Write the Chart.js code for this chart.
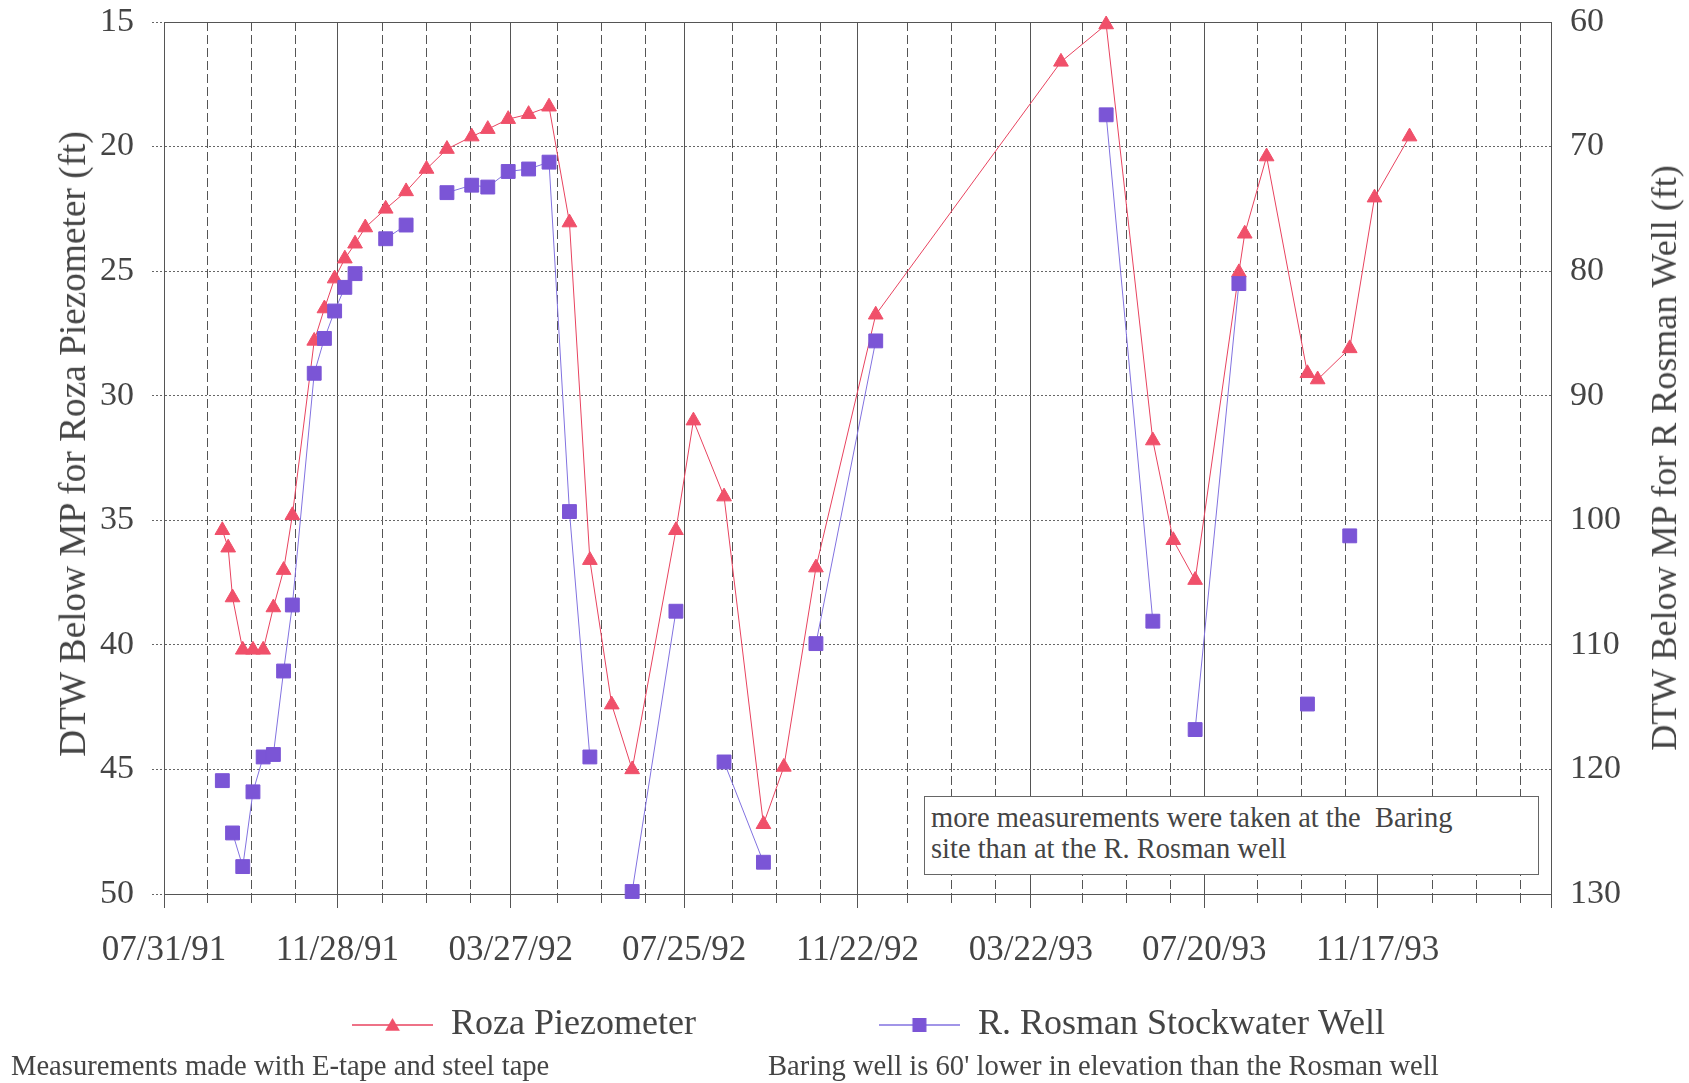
<!DOCTYPE html>
<html>
<head>
<meta charset="utf-8">
<script src="https://cdn.jsdelivr.net/npm/chart.js@4.4.1/dist/chart.umd.min.js"></script>
<style>
  html, body { margin: 0; padding: 0; background: #fff; }
  #wrap { position: relative; width: 1689px; height: 1083px; overflow: hidden;
          font-family: "Liberation Serif", "Times New Roman", serif; color: #444; }
  #c { position: absolute; left: 0; top: 0; }
  .note { position: absolute; background: #fff; border: 1px solid #666; box-sizing: border-box;
          font-size: 28.5px; line-height: 31px; padding: 5px 6px; white-space: nowrap; color: #444; }
  .foot { position: absolute; font-size: 28.6px; line-height: 28px; white-space: nowrap; color: #444; }
  .vtitle { position: absolute; line-height: 40px; white-space: nowrap;
            transform: translate(-50%, -50%) rotate(-90deg); color: #444; }
</style>
</head>
<body>
<div id="wrap">
  <canvas id="c" width="1689" height="1083"></canvas>
  <div class="note" style="left:924px; top:796px; width:615px; height:79px;">more measurements were taken at the&nbsp; Baring<br>site than at the R. Rosman well</div>
  <div class="vtitle" style="left:73px; top:444px; font-size:37.3px;">DTW Below MP for Roza Piezometer (ft)</div>
  <div class="vtitle" style="left:1664px; top:458px; font-size:36px;">DTW Below MP for R Rosman Well (ft)</div>
  <div class="foot" style="left:11px; top:1052px;">Measurements made with E-tape and steel tape</div>
  <div class="foot" style="left:768px; top:1052px;">Baring well is 60' lower in elevation than the Rosman well</div>
</div>
<script>
// ---------------- data ----------------
const axisStartDate = '1991-07-31';
const axisEndDay = 951;          // days after axis start (right edge of plot)
const majorStepDays = 120;
const minorStepDays = 30;
const xTickLabels = ['07/31/91', '11/28/91', '03/27/92', '07/25/92', '11/22/92', '03/22/93', '07/20/93', '11/17/93'];

const measurementDates = [
  '1991-09-09', '1991-09-13', '1991-09-16', '1991-09-23', '1991-09-30', '1991-10-07', '1991-10-14', '1991-10-21',
  '1991-10-27', '1991-11-11', '1991-11-18', '1991-11-25', '1991-12-02', '1991-12-09', '1991-12-16', '1991-12-30',
  '1992-01-13', '1992-01-27', '1992-02-10', '1992-02-27', '1992-03-09', '1992-03-23', '1992-04-06', '1992-04-20',
  '1992-05-04', '1992-05-18', '1992-06-02', '1992-06-16', '1992-07-16', '1992-07-28', '1992-08-18', '1992-09-14',
  '1992-09-28', '1992-10-20', '1992-11-30', '1993-04-06', '1993-05-07', '1993-06-08', '1993-06-22', '1993-07-07',
  '1993-08-06', '1993-08-10', '1993-08-25', '1993-09-22', '1993-09-29', '1993-10-21', '1993-11-07', '1993-12-01'
];

// Roza Piezometer, depth to water (ft) – left axis
const rozaDTW = [
  35.4, 36.1, 38.1, 40.2, 40.2, 40.2, 38.5, 37.0,
  34.8, 27.8, 26.5, 25.3, 24.5, 23.9, 23.25, 22.5,
  21.8, 20.9, 20.1, 19.6, 19.3, 18.9, 18.7, 18.4,
  23.05, 36.6, 42.4, 45.0, 35.4, 31.0, 34.05, 47.2,
  44.9, 36.9, 26.75, 16.6, 15.1, 31.8, 35.8, 37.4,
  25.05, 23.5, 20.4, 29.1, 29.35, 28.1, 22.05, 19.6
];

// R. Rosman Stockwater Well, depth to water (ft) – right axis (null = not measured)
const rosmanDTW = [
  120.9, null, 125.1, 127.8, 121.8, 119.0, 118.8, 112.1,
  106.8, 88.2, 85.4, 83.2, 81.3, 80.2, null, 77.4,
  76.3, null, 73.7, 73.1, 73.25, 72.0, 71.8, 71.25,
  99.3, 119.0, null, 129.8, 107.3, null, 119.4, 127.45,
  null, 109.9, 85.6, null, 67.45, 108.1, null, 116.8,
  81.0, null, null, 114.75, null, 101.25, null, null
];

// ---------------- helpers ----------------
const FONT = 'Liberation Serif';
const TEXT = '#444';
const GRID = '#555';
const RED_LINE = '#E8435F', RED_FILL = '#F0506A';
const BLUE_LINE = '#8272E0', BLUE_FILL = '#7B55D6';

function dayNumber(s) {
  const p = s.split('-').map(Number);
  const o = axisStartDate.split('-').map(Number);
  return Math.round((Date.UTC(p[0], p[1] - 1, p[2]) - Date.UTC(o[0], o[1] - 1, o[2])) / 86400000);
}
const xDays = measurementDates.map(dayNumber);
const rozaPts = xDays.map((x, i) => ({ x: x, y: rozaDTW[i] }));
const rosmanPts = xDays.map((x, i) => ({ x: x, y: rosmanDTW[i] }));

function legendIcon(kind, lineColor, fillColor) {
  const cv = document.createElement('canvas');
  cv.width = 81; cv.height = 22;
  const g = cv.getContext('2d');
  g.strokeStyle = lineColor; g.lineWidth = 1.5;
  g.beginPath(); g.moveTo(0, 11); g.lineTo(81, 11); g.stroke();
  g.fillStyle = fillColor;
  if (kind === 'triangle') {
    const r = 8.5, cx = 40.5, cy = 12.5;
    g.beginPath();
    g.moveTo(cx, cy - r);
    g.lineTo(cx + r * Math.sin(2 * Math.PI / 3), cy + r / 2);
    g.lineTo(cx - r * Math.sin(2 * Math.PI / 3), cy + r / 2);
    g.closePath(); g.fill();
  } else {
    g.fillRect(40.5 - 7, 11 - 7, 14, 14);
  }
  return cv;
}
const icons = [legendIcon('triangle', RED_LINE, RED_FILL), legendIcon('rect', BLUE_LINE, BLUE_FILL)];

// place the legend row (text centre at y=1025) and keep its clip box large enough
const legendPlace = {
  id: 'legendPlace',
  afterLayout(chart) {
    const lg = chart.legend;
    if (!lg) return;
    const pad = lg.options.labels.padding;
    const fs = lg.options.labels.font.size;
    const dy = 1025 - (lg.top + pad + fs / 2);
    lg.top += dy;
    lg.bottom = chart.height;
    lg.height = lg.bottom - lg.top;
    lg.left += 24; lg.right += 24;
  }
};

Chart.defaults.font.family = FONT;
Chart.defaults.color = TEXT;

new Chart(document.getElementById('c'), {
  type: 'line',
  data: {
    datasets: [
      {
        label: 'Roza Piezometer',
        data: rozaPts,
        xAxisID: 'x', yAxisID: 'y',
        borderColor: RED_LINE, backgroundColor: RED_FILL, borderWidth: 1,
        pointStyle: 'triangle', pointRadius: 8.5,
        pointBackgroundColor: RED_FILL, pointBorderColor: RED_FILL, pointBorderWidth: 1,
        spanGaps: false, tension: 0, clip: false, order: 2
      },
      {
        label: 'R. Rosman Stockwater Well',
        data: rosmanPts,
        xAxisID: 'x', yAxisID: 'y2',
        borderColor: BLUE_LINE, backgroundColor: BLUE_FILL, borderWidth: 1,
        pointStyle: 'rect', pointRadius: 9.8,
        pointBackgroundColor: BLUE_FILL, pointBorderColor: BLUE_FILL, pointBorderWidth: 1,
        spanGaps: false, tension: 0, clip: false, order: 1
      }
    ]
  },
  options: {
    responsive: false,
    animation: false,
    devicePixelRatio: 1,
    events: [],
    layout: { padding: { top: 22, left: 0, right: 0, bottom: 39 } },
    plugins: {
      tooltip: { enabled: false },
      legend: {
        display: true,
        position: 'bottom',
        maxHeight: 60,
        labels: {
          usePointStyle: true,
          pointStyleWidth: 81,
          boxHeight: 20,
          padding: 183,
          color: TEXT,
          font: { family: FONT, size: 36 },
          generateLabels: (chart) => chart.data.datasets.map((ds, i) => ({
            text: ds.label,
            pointStyle: icons[i],
            fillStyle: ds.pointBackgroundColor,
            strokeStyle: ds.borderColor,
            lineWidth: 0,
            hidden: false,
            datasetIndex: i,
            fontColor: TEXT
          }))
        }
      }
    },
    scales: {
      x: {
        type: 'linear', position: 'bottom', weight: 1,
        min: 0, max: axisEndDay,
        ticks: {
          stepSize: majorStepDays, includeBounds: false, autoSkip: false, maxRotation: 0, minRotation: 0,
          padding: 22, color: TEXT, font: { family: FONT, size: 35 },
          callback: (v) => xTickLabels[Math.round(v / majorStepDays)] || ''
        },
        grid: { color: GRID, lineWidth: 1, tickLength: 14, tickColor: GRID },
        border: { display: true, color: GRID, width: 1 },
        afterFit: (s) => { s.height = 90; }
      },
      xMinor: {
        type: 'linear', position: 'bottom', weight: 0,
        min: 0, max: axisEndDay,
        ticks: { display: false, stepSize: minorStepDays, includeBounds: false },
        grid: {
          color: (ctx) => (ctx.tick && ctx.tick.value % majorStepDays === 0) ? 'rgba(0,0,0,0)' : GRID,
          tickColor: (ctx) => (ctx.tick && ctx.tick.value % majorStepDays === 0) ? 'rgba(0,0,0,0)' : GRID,
          lineWidth: 1, tickLength: 10, tickBorderDash: [9, 4]
        },
        border: { display: false, dash: [9, 4] },
        afterFit: (s) => { s.height = 0; }
      },
      xTop: {
        type: 'linear', position: 'top', min: 0, max: 1,
        ticks: { display: false },
        grid: { display: false, drawTicks: false },
        border: { display: true, color: GRID, width: 1 },
        afterFit: (s) => { s.height = 0; }
      },
      y: {
        type: 'linear', position: 'left',
        min: 15, max: 50, reverse: true,
        ticks: { stepSize: 5, padding: 18, color: TEXT, font: { family: FONT, size: 34 } },
        grid: { color: '#666', lineWidth: 1, tickLength: 12, tickColor: '#666', tickBorderDash: [2, 2] },
        border: { display: true, color: GRID, width: 1, dash: [2, 2] },
        afterFit: (s) => { s.width = 164; s.paddingTop = 0; s.paddingBottom = 0; }
      },
      y2: {
        type: 'linear', position: 'right',
        min: 60, max: 130, reverse: true,
        ticks: { stepSize: 10, padding: 19, color: TEXT, font: { family: FONT, size: 34 } },
        grid: { drawOnChartArea: false, drawTicks: false },
        border: { display: true, color: GRID, width: 1 },
        afterFit: (s) => { s.width = 138; s.paddingTop = 0; s.paddingBottom = 0; }
      }
    }
  },
  plugins: [legendPlace]
});
</script>
</body>
</html>
